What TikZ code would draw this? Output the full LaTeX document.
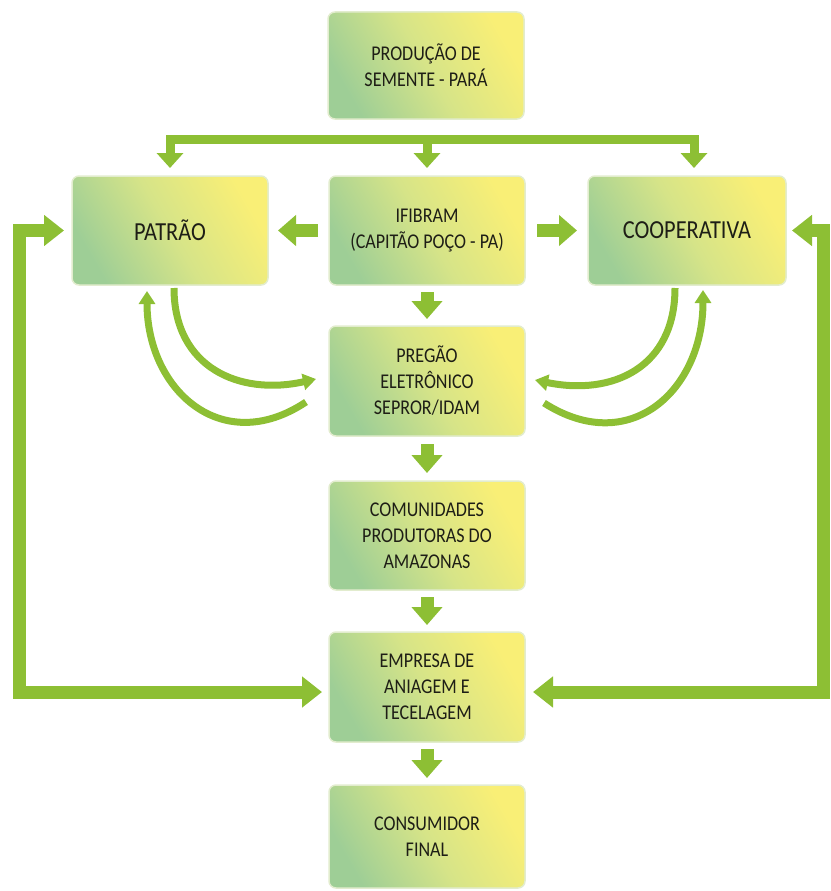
\documentclass[tikz,border=0pt]{standalone}
\usepackage{fontspec}
\setmainfont{Carlito}[FakeStretch=0.86]
\usetikzlibrary{arrows.meta,calc}
\definecolor{arrowgreen}{RGB}{141,191,52}
\definecolor{boxgreen}{RGB}{158,206,150}
\definecolor{boxmid}{RGB}{214,228,136}
\definecolor{boxyellow}{RGB}{249,239,118}
\definecolor{boxedge}{RGB}{226,236,206}
\definecolor{textdark}{RGB}{30,30,22}
\begin{document}
\begin{tikzpicture}[x=1pt,y=-1pt,
  flowbox/.style={rectangle, rounded corners=7pt, minimum width=196pt, minimum height=109pt,
    inner sep=0pt, outer sep=0pt, align=center, text=textdark,
    font=\fontsize{21}{26}\selectfont, draw=boxedge, line width=1.5pt,
    bottom color=boxgreen, top color=boxyellow, middle color=boxmid, shading angle=-60},
  bigtext/.style={font=\fontsize{26}{30}\selectfont},
  blockarrow/.style={draw=arrowgreen, line width=13pt, line join=miter,
    -{Triangle[length=18pt,width=30pt]}},
  looparrow/.style={draw=arrowgreen, line width=13pt, line join=miter,
    {Triangle[length=20pt,width=30pt]}-{Triangle[length=20pt,width=30pt]}},
  toparrow/.style={draw=arrowgreen, line width=9pt, line join=miter,
    -{Triangle[length=15pt,width=26pt]}},
  curvearrow/.style={draw=arrowgreen, line width=7pt,
    -{Triangle[length=13pt,width=16pt]}}
]
\useasboundingbox (0,0) rectangle (830,891);

% boxes
\node[flowbox, minimum height=107pt] (prod) at (426,65.5) {PRODUÇÃO DE\\SEMENTE - PARÁ};
\node[flowbox, bigtext] (pat) at (170,230.5) {PATRÃO};
\node[flowbox] (ifi) at (427,230.5) {IFIBRAM\\(CAPITÃO POÇO - PA)};
\node[flowbox, bigtext, minimum width=198pt] (coop) at (687,230.5) {COOPERATIVA};
\node[flowbox, minimum height=110pt] (preg) at (427,381) {PREGÃO\\ELETRÔNICO\\SEPROR/IDAM};
\node[flowbox] (comu) at (427,535.5) {COMUNIDADES\\PRODUTORAS DO\\AMAZONAS};
\node[flowbox, minimum height=110pt] (emp) at (427,687) {EMPRESA DE\\ANIAGEM E\\TECELAGEM};
\node[flowbox, minimum height=103pt] (cons) at (427,836.5) {CONSUMIDOR\\FINAL};

% distribution bar from the seed production
\coordinate (barL) at (170,139);
\coordinate (barR) at (694,139);
\coordinate (barC) at (427,135);
\draw[toparrow, {Triangle[length=15pt,width=26pt]}-{Triangle[length=15pt,width=26pt]}]
  ($(pat.north)+(0,-8)$) -- (barL) -- (barR) -- ($(coop.north)+(7,-8)$);
\draw[toparrow] (barC) -- ($(ifi.north)+(0,-8)$);

% horizontal arrows from IFIBRAM
\draw[blockarrow] ($(ifi.west)+(-11,0)$) -- ($(pat.east)+(10,0)$);
\draw[blockarrow] ($(ifi.east)+(12,0)$) -- ($(coop.west)+(-11,0)$);

% vertical chain
\draw[blockarrow] ($(ifi.south)+(0,7)$) -- ($(preg.north)+(0,-7)$);
\draw[blockarrow] ($(preg.south)+(0,8)$) -- ($(comu.north)+(0,-8)$);
\draw[blockarrow] ($(comu.south)+(0,7)$) -- ($(emp.north)+(0,-7)$);
\draw[blockarrow] ($(emp.south)+(0,7)$) -- ($(cons.north)+(0,-7)$);

% outer loops
\coordinate (lt) at (19,230.5);
\coordinate (lb) at (19,692);
\coordinate (rt) at (823,230.5);
\coordinate (rb) at (823,692);
\draw[looparrow] ($(pat.west)+(-8,0)$) -- (lt) -- (lb) -- ($(emp.west)+(-7,5)$);
\draw[looparrow] ($(coop.east)+(6,0)$) -- (rt) -- (rb) -- ($(emp.east)+(8,5)$);

% curved arrows, left
\draw[curvearrow] ($(pat.south)+(4,3)$) .. controls (174,368) and (240,396) .. ($(preg.west)+(-13,-2)$);
\draw[curvearrow] ($(preg.west)+(-23,21)$) .. controls (222,458) and (147,390) .. ($(pat.south)+(-23,6)$);
% curved arrows, right
\draw[curvearrow] ($(coop.south)+(-12,3)$) .. controls (675,368) and (612,396) .. ($(preg.east)+(10,-1)$);
\draw[curvearrow] ($(preg.east)+(19,22)$) .. controls (630,458) and (703,390) .. ($(coop.south)+(16,5)$);
\end{tikzpicture}
\end{document}
